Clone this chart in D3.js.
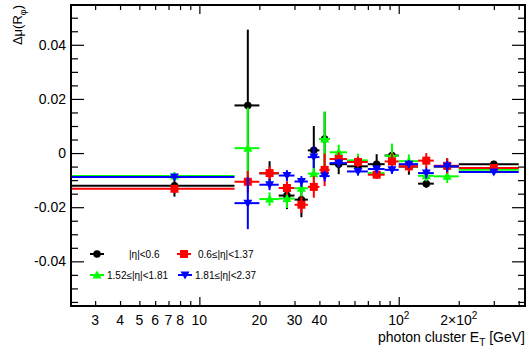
<!DOCTYPE html>
<html>
<head>
<meta charset="utf-8">
<script src="https://cdn.jsdelivr.net/npm/d3@7"></script>
<style>
  html, body { margin: 0; padding: 0; background: #fff; }
  svg { display: block; font-family: "Liberation Sans", Arial, sans-serif; }
</style>
</head>
<body>
<svg id="chart" width="526" height="356"></svg>
<script>
// E_T bins [GeV]
const etLow    = [0, 15, 20, 25, 30, 35, 40, 45, 55, 70, 85, 100, 125, 150, 200];
const etHigh   = [15, 20, 25, 30, 35, 40, 45, 55, 70, 85, 100, 125, 150, 200, 400];
const etCenter = [7.5, 17.5, 22.5, 27.5, 32.5, 37.5, 42.5, 50, 62.5, 77.5, 92.5, 112.5, 137.5, 175, 300];

// Δμ(R_φ) per pseudorapidity region, with uncertainties
const eta1Val = [-0.0121, 0.0176, -0.0075, -0.0157, -0.0172, 0.0010, 0.0052, -0.0041, -0.0049, -0.0041, -0.0009, -0.0050, -0.0113, -0.0050, -0.0041];
const eta1Err = [0.0040, 0.0280, 0.0045, 0.0050, 0.0065, 0.0090, 0.0100, 0.0037, 0.0030, 0.0037, 0.0030, 0.0030, 0.0015, 0.0030, 0.0012];
const eta2Val = [-0.0132, -0.0106, -0.0074, -0.0129, -0.0191, -0.0125, -0.0062, -0.0022, -0.0033, -0.0080, -0.0031, -0.0049, -0.0028, -0.0047, -0.0055];
const eta2Err = [0.0015, 0.0040, 0.0025, 0.0025, 0.0030, 0.0040, 0.0060, 0.0025, 0.0020, 0.0015, 0.0030, 0.0020, 0.0028, 0.0028, 0.0010];
const eta3Val = [-0.0085, 0.0018, -0.0170, -0.0168, -0.0130, -0.0076, 0.0052, 0.0003, -0.0027, -0.0074, -0.0010, -0.0030, -0.0084, -0.0086, -0.0062];
const eta3Err = [0.0015, 0.0150, 0.0025, 0.0035, 0.0030, 0.0050, 0.0102, 0.0028, 0.0025, 0.0015, 0.0045, 0.0025, 0.0020, 0.0025, 0.0010];
const eta4Val = [-0.0088, -0.0185, -0.0117, -0.0083, -0.0105, -0.0015, -0.0085, -0.0037, -0.0068, -0.0059, -0.0062, -0.0041, -0.0074, -0.0049, -0.0070];
const eta4Err = [0.0010, 0.0096, 0.0020, 0.0020, 0.0020, 0.0040, 0.0020, 0.0015, 0.0015, 0.0015, 0.0015, 0.0015, 0.0020, 0.0020, 0.0010];

const seriesNames = ["|η|<0.6", "0.6≤|η|<1.37", "1.52≤|η|<1.81", "1.81≤|η|<2.37"];

// axis ticks
const xMajorTicks = [10, 100];
const xMinorTicks = [3, 4, 5, 6, 7, 8, 9, 20, 30, 40, 50, 60, 70, 80, 90, 200, 300, 400];
const xLabelValues = [3, 4, 5, 6, 7, 8, 10, 20, 30, 40, 100, 200];
const xLabelText = ["3", "4", "5", "6", "7", "8", "10", "20", "30", "40", "10^2", "2×10^2"];
const yMajorTicks = [-0.04, -0.02, 0, 0.02, 0.04];
const yMinorTicks = d3.range(-11, 11).map(i => +(i * 0.005).toFixed(3)).filter(v => !yMajorTicks.includes(v));
const yLabelText = ["-0.04", "-0.02", "0", "0.02", "0.04"];

const svg = d3.select("#chart");
const L = 71, R = 525, T = 5, B = 306;

const x = d3.scaleLog().domain([2.27, 430]).range([L, R]);
const y = d3.scaleLinear().domain([-0.0565, 0.0547]).range([B, T]);

// clip for data marks
svg.append("defs").append("clipPath").attr("id", "plotClip")
  .append("rect").attr("x", L).attr("y", T).attr("width", R - L).attr("height", B - T);

const series = [
  { name: seriesNames[0], val: eta1Val, err: eta1Err, color: "#000000", shape: "circle" },
  { name: seriesNames[1], val: eta2Val, err: eta2Err, color: "#ff0000", shape: "square" },
  { name: seriesNames[2], val: eta3Val, err: eta3Err, color: "#00ff00", shape: "triUp" },
  { name: seriesNames[3], val: eta4Val, err: eta4Err, color: "#0000ff", shape: "triDown" }
];

function markerPath(shape) {
  if (shape === "circle") return d3.symbol(d3.symbolCircle, 44)();
  if (shape === "square") return "M-4,-4H4V4H-4Z";
  if (shape === "triUp") return "M0,-4.5L4.5,3.5L-4.5,3.5Z";
  return "M0,4.5L4.5,-3.5L-4.5,-3.5Z";
}

const plot = svg.append("g").attr("clip-path", "url(#plotClip)");
// draw order: black, green, red, blue
[0, 2, 1, 3].forEach(si => {
  const s = series[si];
  const g = plot.append("g");
  etCenter.forEach((c, i) => {
    const v = s.val[i], e = s.err[i];
    g.append("line")
      .attr("x1", x(Math.max(etLow[i], 1))).attr("x2", x(etHigh[i]))
      .attr("y1", y(v)).attr("y2", y(v))
      .attr("stroke", s.color).attr("stroke-width", 2);
    g.append("line")
      .attr("x1", x(c)).attr("x2", x(c))
      .attr("y1", y(v - e)).attr("y2", y(v + e))
      .attr("stroke", s.color).attr("stroke-width", 2);
    g.append("path")
      .attr("d", markerPath(s.shape))
      .attr("transform", `translate(${x(c)},${y(v)})`)
      .attr("fill", s.color);
  });
});

// axes, ROOT style: ticks inside on all four sides
const axisStyle = g => {
  g.select(".domain").remove();
  g.selectAll(".tick line").attr("stroke", "#000").attr("stroke-width", 1.2);
};
svg.append("g").attr("transform", `translate(0,${B})`)
  .call(d3.axisBottom(x).tickValues(xMinorTicks).tickSize(-5).tickFormat("")).call(axisStyle);
svg.append("g").attr("transform", `translate(0,${B})`)
  .call(d3.axisBottom(x).tickValues(xMajorTicks).tickSize(-9).tickFormat("")).call(axisStyle);
svg.append("g").attr("transform", `translate(0,${T})`)
  .call(d3.axisTop(x).tickValues(xMinorTicks).tickSize(-5).tickFormat("")).call(axisStyle);
svg.append("g").attr("transform", `translate(0,${T})`)
  .call(d3.axisTop(x).tickValues(xMajorTicks).tickSize(-9).tickFormat("")).call(axisStyle);

svg.append("g").attr("transform", `translate(${L},0)`)
  .call(d3.axisLeft(y).tickValues(yMinorTicks).tickSize(-7).tickFormat("")).call(axisStyle);
svg.append("g").attr("transform", `translate(${L},0)`)
  .call(d3.axisLeft(y).tickValues(yMajorTicks).tickSize(-13).tickFormat("")).call(axisStyle);
svg.append("g").attr("transform", `translate(${R},0)`)
  .call(d3.axisRight(y).tickValues(yMinorTicks).tickSize(-7).tickFormat("")).call(axisStyle);
svg.append("g").attr("transform", `translate(${R},0)`)
  .call(d3.axisRight(y).tickValues(yMajorTicks).tickSize(-13).tickFormat("")).call(axisStyle);

// frame
svg.append("rect").attr("x", L).attr("y", T).attr("width", R - L).attr("height", B - T)
  .attr("fill", "none").attr("stroke", "#000").attr("stroke-width", 2);

// x tick labels (with superscript exponents)
const xl = svg.append("g").attr("font-size", 14).attr("fill", "#000").attr("text-anchor", "middle");
xLabelValues.forEach((v, i) => {
  const parts = xLabelText[i].split("^");
  const t = xl.append("text").attr("x", x(v)).attr("y", 325);
  t.append("tspan").text(parts[0]);
  if (parts[1]) t.append("tspan").attr("dy", -6).attr("font-size", 10).text(parts[1]);
});

// y tick labels
const yl = svg.append("g").attr("font-size", 14).attr("fill", "#000").attr("text-anchor", "end");
yMajorTicks.forEach((v, i) => {
  yl.append("text").attr("x", 66).attr("y", y(v) + 5).text(yLabelText[i]);
});

// axis titles
const xt = svg.append("text").attr("x", 525).attr("y", 342).attr("text-anchor", "end")
  .attr("font-size", 14).attr("fill", "#000");
xt.append("tspan").text("photon cluster E");
xt.append("tspan").attr("dy", 4).attr("font-size", 10).text("T");
xt.append("tspan").attr("dy", -4).text(" [GeV]");

const yt = svg.append("text").attr("transform", "translate(22,5) rotate(-90)")
  .attr("text-anchor", "end").attr("font-size", 13).attr("fill", "#000");
yt.append("tspan").text("Δμ(R");
yt.append("tspan").attr("dy", 4).attr("font-size", 9).text("φ");
yt.append("tspan").attr("dy", -4).text(")");

// legend
const legendPos = [
  { mx: 97, tx: 129, ty: 254 },
  { mx: 184, tx: 198, ty: 254 },
  { mx: 97, tx: 107, ty: 275 },
  { mx: 185, tx: 195, ty: 275 }
];
const lg = svg.append("g").attr("font-size", 10).attr("fill", "#000");
series.forEach((s, i) => {
  const p = legendPos[i];
  lg.append("line").attr("x1", p.mx - 7).attr("x2", p.mx + 7).attr("y1", p.ty).attr("y2", p.ty)
    .attr("stroke", s.color).attr("stroke-width", 2);
  lg.append("path").attr("d", markerPath(s.shape))
    .attr("transform", `translate(${p.mx},${p.ty})`).attr("fill", s.color);
  lg.append("text").attr("x", p.tx).attr("y", p.ty + 3.5).text(s.name);
});
</script>
</body>
</html>
